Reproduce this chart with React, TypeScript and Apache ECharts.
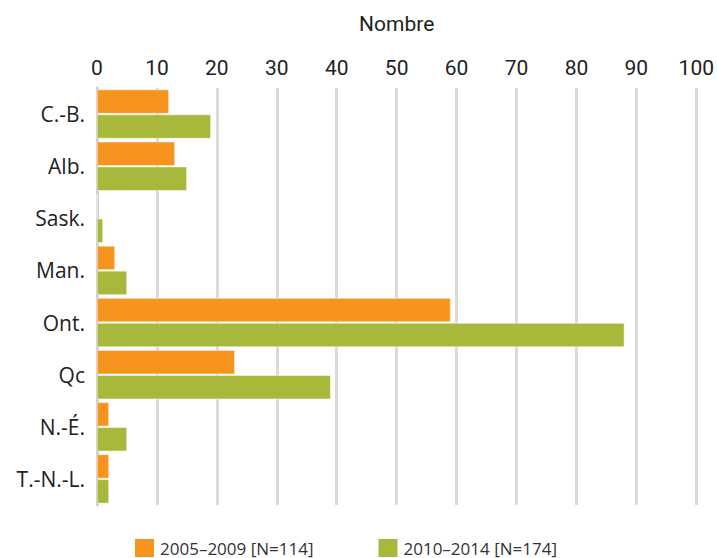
import React, { useEffect, useRef } from "react";
import * as echarts from "echarts";

const categories = ["C.-B.", "Alb.", "Sask.", "Man.", "Ont.", "Qc", "N.-É.", "T.-N.-L."];
const series2005 = [12, 13, 0, 3, 59, 23, 2, 2];
const series2010 = [19, 15, 1, 5, 88, 39, 5, 2];
const seriesNames = ["2005–2009 [N=114]", "2010–2014 [N=174]"];
const xTicks = [0, 10, 20, 30, 40, 50, 60, 70, 80, 90, 100];

export default function App() {
  const ref = useRef<HTMLDivElement>(null);
  useEffect(() => {
    if (!ref.current) return;
    const chart = echarts.init(ref.current, null, { renderer: "svg" });
    chart.setOption({
      animation: false,
      grid: { left: 97, right: 17, top: 88, bottom: 53, containLabel: false },
      legend: {
        top: 537,
        left: 133,
        padding: 0,
        itemGap: 63,
        itemWidth: 21,
        itemHeight: 20,
        icon: "rect",
        textStyle: { fontFamily: "Open Sans", fontSize: 17, color: "#333", lineHeight: 20 },
        data: seriesNames,
      },
      xAxis: {
        type: "value",
        position: "top",
        min: 0,
        max: 100,
        interval: 10,
        name: "Nombre",
        nameLocation: "middle",
        nameGap: 54,
        nameTextStyle: { fontFamily: "Roboto", fontSize: 21, color: "#222" },
        axisLine: { show: false },
        axisTick: { show: false },
        axisLabel: {
          fontFamily: "Roboto",
          fontSize: 21,
          color: "#222",
          margin: 10,
          formatter: (v: number) => (xTicks.includes(v) ? String(v) : ""),
        },
        splitLine: { show: true, lineStyle: { color: "#dadada", width: 3 } },
      },
      yAxis: {
        type: "category",
        inverse: true,
        data: categories,
        axisLine: { show: true, lineStyle: { color: "#d0d0d0", width: 3 } },
        axisTick: { show: false },
        axisLabel: { fontFamily: "Open Sans", fontSize: 21, color: "#222", margin: 12 },
      },
      series: [
        {
          name: seriesNames[0],
          type: "bar",
          data: series2005,
          barGap: "4%",
          barCategoryGap: "6%",
          itemStyle: { color: "#F7941E", borderColor: "#fff", borderWidth: 0.5 },
        },
        {
          name: seriesNames[1],
          type: "bar",
          data: series2010,
          barGap: "4%",
          barCategoryGap: "6%",
          itemStyle: { color: "#A8B83A", borderColor: "#fff", borderWidth: 0.5 },
        },
      ],
    });
    return () => chart.dispose();
  }, []);
  return <div ref={ref} style={{ width: 717, height: 558, position: "absolute", left: 0, top: 0 }} />;
}
